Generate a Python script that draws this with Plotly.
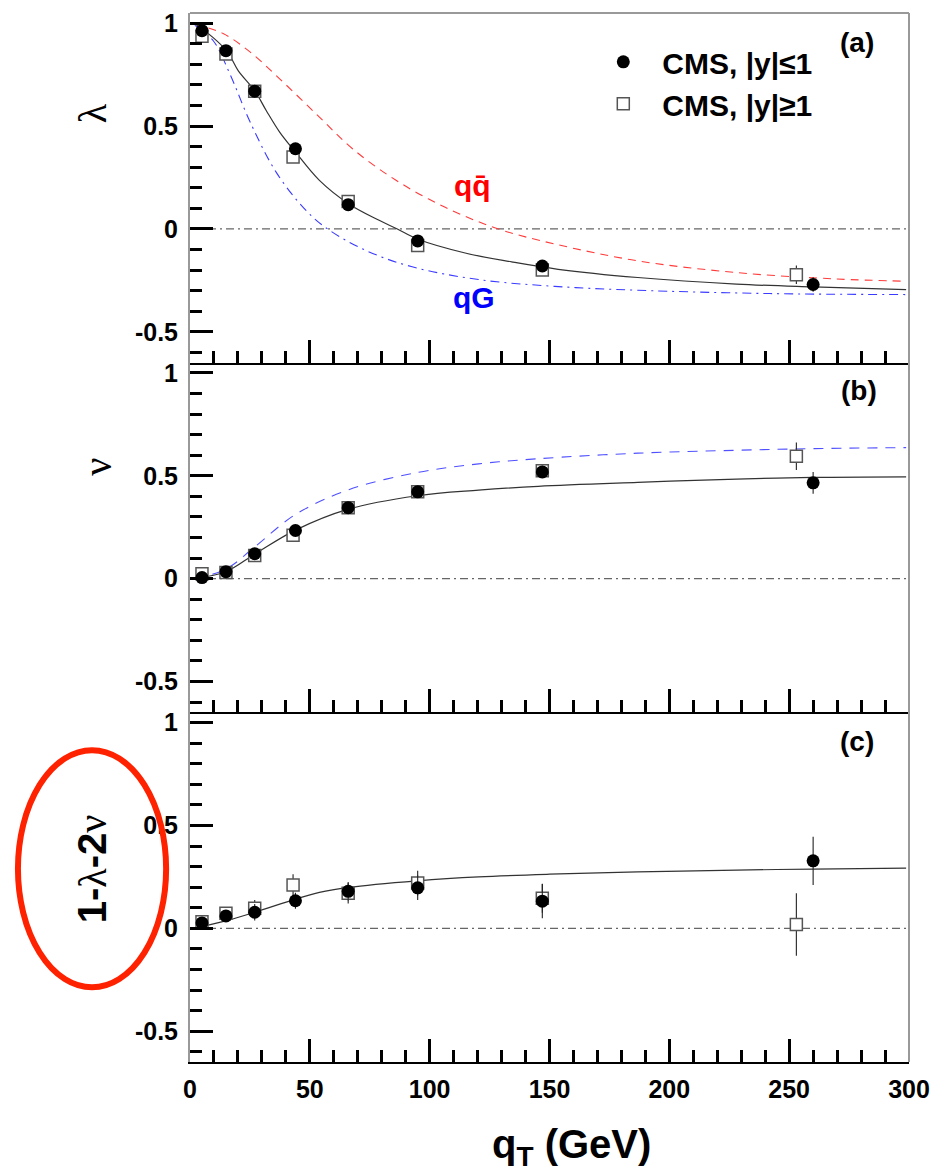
import plotly.graph_objects as go

# ---------------------------------------------------------------------------
# CMS Z-boson angular coefficients versus q_T
# ---------------------------------------------------------------------------

# q_T bin centres (GeV)
qt_central = [5, 15, 27, 44, 66, 95, 147, 260]
qt_forward = [5, 15, 27, 43, 66, 95, 147, 253]

# (a) lambda
lambda_central = [0.964, 0.867, 0.670, 0.390, 0.118, -0.058, -0.180, -0.270]
lambda_central_err = [0.01, 0.01, 0.01, 0.01, 0.01, 0.015, 0.02, 0.035]
lambda_forward = [0.937, 0.851, 0.670, 0.350, 0.133, -0.080, -0.200, -0.222]
lambda_forward_err = [0.01, 0.01, 0.01, 0.015, 0.015, 0.02, 0.025, 0.045]

# (b) nu
nu_central = [0.005, 0.034, 0.121, 0.234, 0.345, 0.422, 0.519, 0.466]
nu_central_err = [0.01, 0.01, 0.01, 0.01, 0.01, 0.015, 0.03, 0.053]
nu_forward = [0.024, 0.030, 0.113, 0.211, 0.345, 0.422, 0.524, 0.595]
nu_forward_err = [0.01, 0.01, 0.01, 0.015, 0.015, 0.02, 0.03, 0.067]

# (c) Lam-Tung combination 1 - lambda - 2 nu
lt_central = [0.026, 0.060, 0.078, 0.134, 0.180, 0.197, 0.132, 0.328]
lt_central_err = [0.02, 0.02, 0.04, 0.039, 0.045, 0.06, 0.083, 0.117]
lt_forward = [0.032, 0.073, 0.097, 0.210, 0.170, 0.220, 0.146, 0.018]
lt_forward_err = [0.02, 0.03, 0.04, 0.053, 0.05, 0.06, 0.07, 0.152]

# Model curves
lam_fit_x = [2, 4.2, 15.2, 20.1, 27.1, 31.8, 37.4, 44.0, 54, 66.1, 78.9, 86.5,
             94.9, 114.8, 134.2, 153.6, 186.8, 228, 260, 298.8]
lam_fit_y = [0.995, 0.981, 0.867, 0.770, 0.670, 0.576, 0.471, 0.374, 0.236,
             0.123, 0.042, 0.0, -0.049, -0.117, -0.160, -0.196, -0.236,
             -0.268, -0.282, -0.295]

lam_qqbar_x = [2, 13.8, 24.9, 37.4, 54, 67.8, 85.8, 106.5, 128.7, 152.2,
               186.8, 228, 269.5, 298.8]
lam_qqbar_y = [0.996, 0.950, 0.862, 0.730, 0.544, 0.390, 0.238, 0.105, 0.0,
               -0.073, -0.155, -0.212, -0.243, -0.254]

lam_qg_x = [2, 9.7, 16.6, 24.9, 36, 48.4, 57.4, 73.3, 92.7, 120.4, 152.2,
            186.8, 242, 298.8]
lam_qg_y = [0.99, 0.915, 0.755, 0.525, 0.275, 0.09, 0.0, -0.104, -0.184,
            -0.246, -0.279, -0.298, -0.314, -0.319]

nu_curve_x = [2, 15.2, 27.1, 44, 66.1, 94.9, 120.4, 145.3, 186.8, 228, 260, 298.8]
nu_fit_y = [0.0, 0.035, 0.120, 0.236, 0.338, 0.403, 0.430, 0.449, 0.468,
            0.484, 0.492, 0.495]
nu_coplanar_y = [0.0, 0.048, 0.155, 0.312, 0.432, 0.516, 0.558, 0.583, 0.610,
                 0.624, 0.632, 0.637]

lt_fit_x = [2, 15.2, 27.1, 44, 54, 66.1, 94.9, 120.4, 150, 186.8, 228, 260, 298.8]
lt_fit_y = [0.0, 0.037, 0.078, 0.142, 0.175, 0.199, 0.231, 0.250, 0.263,
            0.274, 0.283, 0.288, 0.293]

# Axis ticks
x_tick_vals = [0, 50, 100, 150, 200, 250, 300]
x_tick_text = ["0", "50", "100", "150", "200", "250", "300"]
y_tick_vals = [-0.5, 0, 0.5, 1]
y_tick_text = ["-0.5", "0", "0.5", "1"]

SANS = "Liberation Sans"
SERIF = "Liberation Serif"

fig = go.Figure()

panels = [
    ("x", "y", lambda_central, lambda_central_err, lambda_forward, lambda_forward_err),
    ("x2", "y2", nu_central, nu_central_err, nu_forward, nu_forward_err),
    ("x3", "y3", lt_central, lt_central_err, lt_forward, lt_forward_err),
]

# model curves (drawn below the data points)
fig.add_trace(go.Scatter(x=lam_qqbar_x, y=lam_qqbar_y, mode="lines",
                         line=dict(color="#ff3b3b", width=1.1, dash="8px,6px", shape="spline"),
                         xaxis="x", yaxis="y", showlegend=False, hoverinfo="skip"))
fig.add_trace(go.Scatter(x=lam_qg_x, y=lam_qg_y, mode="lines",
                         line=dict(color="#3b3bff", width=1.1, dash="9px,5px,2px,5px", shape="spline"),
                         xaxis="x", yaxis="y", showlegend=False, hoverinfo="skip"))
fig.add_trace(go.Scatter(x=lam_fit_x, y=lam_fit_y, mode="lines",
                         line=dict(color="#333333", width=1.2, shape="spline"),
                         xaxis="x", yaxis="y", showlegend=False, hoverinfo="skip"))
fig.add_trace(go.Scatter(x=nu_curve_x, y=nu_coplanar_y, mode="lines",
                         line=dict(color="#5050ff", width=1.1, dash="10px,8px", shape="spline"),
                         xaxis="x2", yaxis="y2", showlegend=False, hoverinfo="skip"))
fig.add_trace(go.Scatter(x=nu_curve_x, y=nu_fit_y, mode="lines",
                         line=dict(color="#333333", width=1.2, shape="spline"),
                         xaxis="x2", yaxis="y2", showlegend=False, hoverinfo="skip"))
fig.add_trace(go.Scatter(x=lt_fit_x, y=lt_fit_y, mode="lines",
                         line=dict(color="#333333", width=1.2, shape="spline"),
                         xaxis="x3", yaxis="y3", showlegend=False, hoverinfo="skip"))

# data points: open squares first, full circles on top
for i, (xa, ya, yc, yce, yf, yfe) in enumerate(panels):
    fig.add_trace(go.Scatter(
        x=qt_forward, y=yf, mode="markers",
        marker=dict(symbol="square", size=12, color="white",
                    line=dict(color="#555555", width=1.5)),
        error_y=dict(type="data", array=yfe, color="#222222", thickness=1.1, width=0),
        xaxis=xa, yaxis=ya, name="CMS, |y|\u22651", showlegend=(i == 0),
        legendrank=2))
    fig.add_trace(go.Scatter(
        x=qt_central, y=yc, mode="markers",
        marker=dict(symbol="circle", size=13, color="black", line=dict(width=0)),
        error_y=dict(type="data", array=yce, color="#222222", thickness=1.1, width=0),
        xaxis=xa, yaxis=ya, name="CMS, |y|\u22641", showlegend=(i == 0),
        legendrank=1))

tick_font = dict(family=SANS, size=25, color="black", weight="bold")


def x_axis(anchor, labels):
    return dict(
        domain=[0, 1], anchor=anchor, range=[0, 300],
        tickmode="array", tickvals=x_tick_vals, ticktext=x_tick_text,
        ticks="inside", ticklen=23, tickwidth=3, tickcolor="black",
        showline=True, linecolor="black", linewidth=2,
        showgrid=False, zeroline=False, showticklabels=labels,
        tickfont=tick_font, ticklabelstandoff=4,
        minor=dict(tickmode="linear", tick0=0, dtick=10, ticks="inside",
                   ticklen=12, tickwidth=3, tickcolor="black", showgrid=False),
    )


def y_axis(anchor, domain):
    return dict(
        domain=domain, anchor=anchor, range=[-0.65, 1.05],
        tickmode="array", tickvals=y_tick_vals, ticktext=y_tick_text,
        ticks="inside", ticklen=23, tickwidth=3, tickcolor="black",
        showline=True, linecolor="#999999", linewidth=2,
        showgrid=False, zeroline=False, tickfont=tick_font,
        ticklabelstandoff=5,
        minor=dict(tickmode="linear", tick0=0, dtick=0.1, ticks="inside",
                   ticklen=12, tickwidth=3, tickcolor="black", showgrid=False),
    )


third = 1 / 3
fig.update_layout(
    width=939, height=1175,
    margin=dict(l=190, r=26, t=9, b=113),
    paper_bgcolor="white", plot_bgcolor="white",
    font=dict(family=SANS, color="black"),
    xaxis=x_axis("y", False),
    xaxis2=x_axis("y2", False),
    xaxis3=x_axis("y3", True),
    yaxis=y_axis("x", [2 * third, 1]),
    yaxis2=y_axis("x2", [third, 2 * third]),
    yaxis3=y_axis("x3", [0, third]),
    legend=dict(x=0.5484, y=0.9782, xanchor="left", yanchor="top",
                bgcolor="rgba(0,0,0,0)", borderwidth=0,
                font=dict(family=SANS, size=30, color="black", weight="bold"),
                itemwidth=68, tracegroupgap=0),
)

shapes = []
# horizontal reference lines at zero
for xa, ya in [("x", "y"), ("x2", "y2"), ("x3", "y3")]:
    shapes.append(dict(type="line", xref=xa, yref=ya, x0=0, x1=300, y0=0, y1=0,
                       line=dict(color="#666666", width=1.3, dash="8px,4px,2px,4px"),
                       layer="below"))
# frame: right edge and top edge
shapes.append(dict(type="line", xref="paper", yref="paper", x0=1, x1=1, y0=0, y1=1,
                   line=dict(color="#999999", width=2)))
shapes.append(dict(type="line", xref="paper", yref="paper", x0=0, x1=1, y0=1, y1=1,
                   line=dict(color="#999999", width=2)))
# highlight ring around the lower axis title
shapes.append(dict(type="circle", xref="paper", yref="paper",
                   x0=-0.2393, x1=-0.0332, y0=0.0712, y1=0.2972,
                   line=dict(color="rgb(255,34,0)", width=6)))
fig.update_layout(shapes=shapes)

greek = "<span style='font-family:" + SERIF + "'>{}</span>"
annotations = [
    dict(text="<b>(a)</b>", x=0.9274, y=0.9715),
    dict(text="<b>(b)</b>", x=0.9302, y=0.6406),
    dict(text="<b>(c)</b>", x=0.9274, y=0.3053),
    dict(text="<b>qq\u0304</b>", x=0.3928, y=0.8357, color="#ff0000", size=30),
    dict(text="<b>qG</b>", x=0.3956, y=0.7289, color="#0000ff", size=30),
    dict(text=greek.format("\u03bb"), x=-0.1355, y=0.9041, size=40, angle=-90),
    dict(text=greek.format("\u03bd"), x=-0.1286, y=0.5670, size=40, angle=-90),
    dict(text="<b>1-</b>" + greek.format("\u03bb") + "<b>-2</b>" + greek.format("\u03bd"),
         x=-0.1355, y=0.1842, size=40, angle=-90),
    dict(text="<b>q<sub>T</sub> (GeV)</b>", x=0.531, y=-0.0807, size=40),
]
for a in annotations:
    fig.add_annotation(
        text=a["text"], xref="paper", yref="paper", x=a["x"], y=a["y"],
        xanchor="center", yanchor="middle", showarrow=False,
        textangle=a.get("angle", 0),
        font=dict(family=SANS, size=a.get("size", 28), color=a.get("color", "black")),
    )

fig.write_html("out.html")
